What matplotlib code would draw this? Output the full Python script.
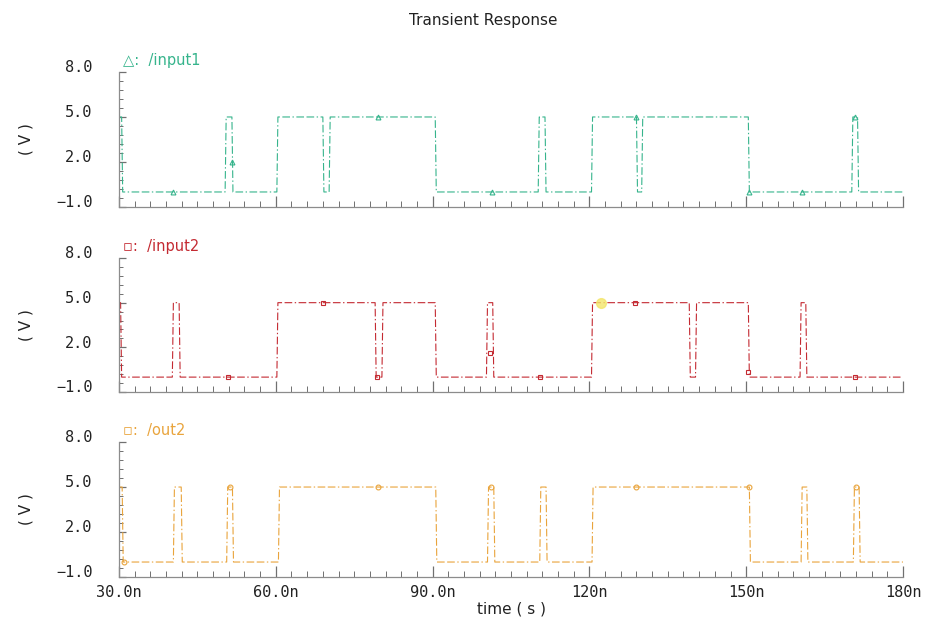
import numpy as np
import matplotlib
matplotlib.use("Agg")
import matplotlib.pyplot as plt
from matplotlib.ticker import FixedLocator
from matplotlib.transforms import ScaledTranslation

# Данные: уровень в начале и моменты переключения (нс)

v_low = 0.0
v_high = 5.0

input1_start = v_high
input1_edges = [30.5, 50.3, 51.6, 60.2, 69.0, 70.2, 90.5, 110.2, 111.5,
                120.4, 129.0, 130.0, 150.4, 170.2, 171.3]
input2_start = v_high
input2_edges = [30.3, 40.2, 41.5, 60.2, 79.0, 80.3, 90.5, 100.3, 101.5,
                120.4, 139.1, 140.3, 150.4, 160.3, 161.4]
out2_start = v_high
out2_edges = [30.6, 40.4, 41.9, 50.6, 51.7, 60.5, 90.6, 100.5, 101.7,
              110.5, 111.7, 120.5, 150.6, 160.5, 161.6, 170.5, 171.6]

# маркеры на кривых
input1_mk_t = [40.3, 51.6, 79.5, 101.3, 128.9, 150.6, 160.6, 170.8]
input1_mk_v = [0.0, 2.0, 5.0, 0.0, 5.0, 0.0, 0.0, 5.0]
input2_mk_t = [50.9, 69.0, 79.4, 101.0, 110.5, 128.7, 150.3, 170.8]
input2_mk_v = [0.0, 5.0, 0.0, 1.6, 0.0, 5.0, 0.35, 0.0]
out2_mk_t = [30.9, 51.2, 79.6, 101.1, 128.9, 150.5, 171.0]
out2_mk_v = [0.0, 5.0, 5.0, 5.0, 5.0, 5.0, 5.0]
cursor_t = [122.3]
cursor_v = [5.0]

t_start = 30.0
t_stop = 180.0

x_ticks = [30, 60, 90, 120, 150, 180]
x_labels = ["30.0n", "60.0n", "90.0n", "120n", "150n", "180n"]
y_ticks = [-1, 2, 5, 8]
y_labels = ["\u22121.0", "2.0", "5.0", "8.0"]

names = ["/input1", "/input2", "/out2"]
colors = ["#36b48c", "#c42a32", "#e9a43c"]
symbols = ["\u25b3", "\u25ab", "\u25ab"]


def waveform(start, edges, ramp=0.2):
    t = [t_start]
    v = [start]
    level = start
    for e in edges:
        new = v_low if level == v_high else v_high
        t += [e, e + ramp]
        v += [level, new]
        level = new
    t.append(t_stop)
    v.append(level)
    return np.array(t), np.array(v)


plt.rcParams["lines.scale_dashes"] = False

fig = plt.figure(figsize=(9.32, 6.27), dpi=100)

boxes = [
    [0.1277, 0.6699, 0.8412, 0.2153],
    [0.1277, 0.3748, 0.8412, 0.2137],
    [0.1277, 0.0797, 0.8412, 0.2153],
]

signals = [
    (input1_start, input1_edges, input1_mk_t, input1_mk_v, "^"),
    (input2_start, input2_edges, input2_mk_t, input2_mk_v, "s"),
    (out2_start, out2_edges, out2_mk_t, out2_mk_v, "o"),
]

axes = []
for i, box in enumerate(boxes):
    ax = fig.add_axes(box)
    axes.append(ax)
    start, edges, mk_t, mk_v, mk = signals[i]
    t, v = waveform(start, edges)
    ax.plot(t, v, color=colors[i], lw=0.8, dashes=(5.5, 1.8, 1.0, 1.8, 5.5, 1.8))
    ax.plot(mk_t, mk_v, linestyle="none", marker=mk, markersize=3.5,
            markerfacecolor="none", markeredgecolor=colors[i], markeredgewidth=0.8)
    if i == 1:
        ax.plot(cursor_t, cursor_v, linestyle="none", marker="o", markersize=7,
                color="#f3e56a", alpha=0.8)

    ax.set_xlim(t_start, t_stop)
    ax.set_ylim(-1, 8)
    for s in ["top", "right"]:
        ax.spines[s].set_visible(False)
    for s in ["left", "bottom"]:
        ax.spines[s].set_color("#8c8c8c")
        ax.spines[s].set_linewidth(0.9)

    ax.xaxis.set_major_locator(FixedLocator(x_ticks))
    ax.xaxis.set_minor_locator(FixedLocator(np.arange(30, 181, 3)))
    ax.yaxis.set_major_locator(FixedLocator(y_ticks))
    ax.yaxis.set_minor_locator(FixedLocator(np.arange(-1, 8.01, 0.6)))
    ax.set_yticklabels(y_labels)
    ax.tick_params(axis="both", which="both", direction="in", color="#707070")
    ax.tick_params(axis="x", which="major", length=8, width=0.9)
    ax.tick_params(axis="x", which="minor", length=4, width=0.7)
    ax.tick_params(axis="y", which="major", length=5, width=0.9, pad=19)
    ax.tick_params(axis="y", which="minor", length=3, width=0.7)
    for lab in ax.get_yticklabels():
        lab.set_family("DejaVu Sans Mono")
        lab.set_fontsize(11)
        lab.set_color("#222222")
        lab.set_transform(lab.get_transform() + ScaledTranslation(0, 4 / 72, fig.dpi_scale_trans))

    if i < 2:
        ax.tick_params(axis="x", labelbottom=False)
    else:
        ax.set_xticklabels(x_labels, family="DejaVu Sans Mono", fontsize=11, color="#222222")
        ax.tick_params(axis="x", pad=6)
        ax.set_xlabel("time ( s )", fontsize=11, color="#222222", labelpad=1)

    ax.set_ylabel("( V )", fontsize=11, color="#222222", labelpad=16)
    ax.text(0.005, 1.03, symbols[i] + ":  " + names[i], transform=ax.transAxes,
            color=colors[i], fontsize=10.5, ha="left", va="bottom")

fig.text(0.519, 0.968, "Transient Response", ha="center", va="center",
         fontsize=11, color="#222222")

fig.savefig("out.png", dpi=100)
